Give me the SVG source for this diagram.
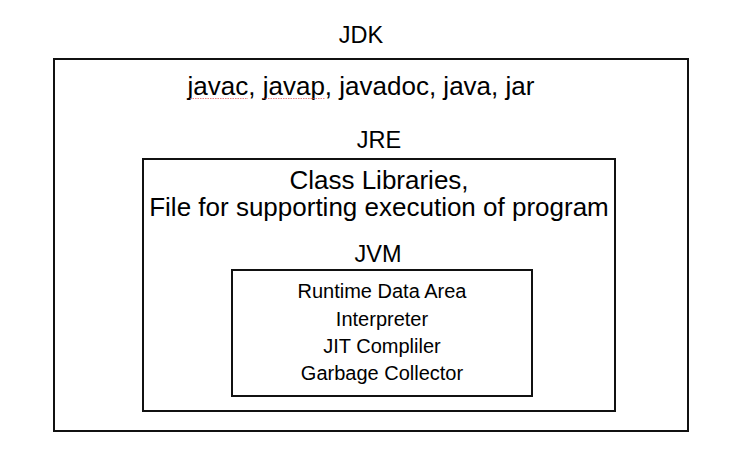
<svg xmlns="http://www.w3.org/2000/svg" width="756" height="474" viewBox="0 0 756 474">
<style>
.box{fill:#fff;stroke:#111;stroke-width:2}
.t{font-family:"Liberation Sans",Arial,sans-serif;fill:#000;text-anchor:middle}
.lbl{font-size:23.5px}
.big{font-size:26px}
.sm{font-size:20px}
.sq{stroke:#e05050;stroke-width:1;stroke-dasharray:1.5 1;fill:none;opacity:0.7}
</style>
<rect width="756" height="474" fill="#fff"/>
<g id="jdk">
<text class="t lbl" x="361" y="43">JDK</text>
<rect class="box" x="54" y="59" width="634" height="372"/>
<text class="t big" x="361" y="95">javac, javap, javadoc, java, jar</text>
<path class="sq" d="M190 98.5H248M263 98.5H325"/>
</g>
<g id="jre">
<text class="t lbl" x="379" y="148">JRE</text>
<rect class="box" x="143" y="159" width="472" height="252"/>
<text class="t big" x="379" y="189">Class Libraries,</text>
<text class="t big" x="379" y="216">File for supporting execution of program</text>
</g>
<g id="jvm">
<text class="t lbl" x="378" y="262">JVM</text>
<rect class="box" x="232" y="270" width="300" height="126"/>
<text class="t sm" x="382" y="298">Runtime Data Area</text>
<text class="t sm" x="382" y="326">Interpreter</text>
<text class="t sm" x="382" y="353">JIT Compliler</text>
<text class="t sm" x="382" y="380">Garbage Collector</text>
</g>
<g id="connectors"></g>
</svg>
